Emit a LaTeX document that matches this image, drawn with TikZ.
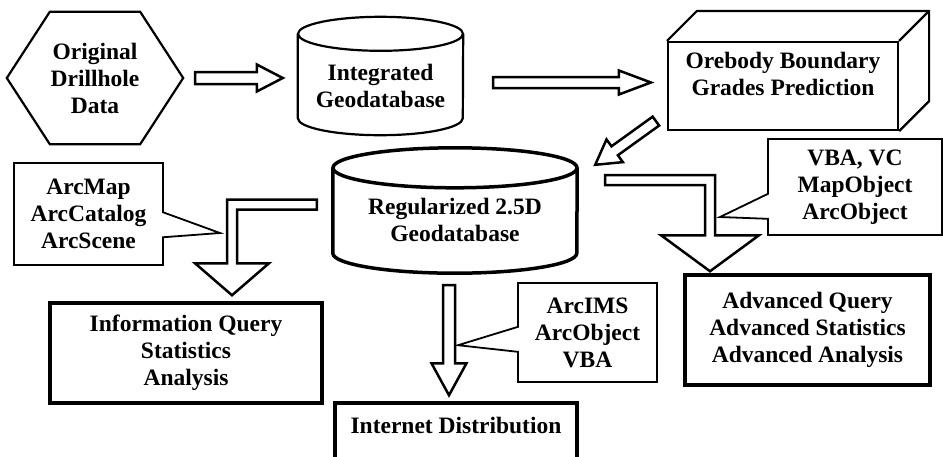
\documentclass[tikz,border=0pt]{standalone}
\usepackage{fontspec}
\setmainfont{Liberation Serif}
\usetikzlibrary{calc,shapes.callouts}

\newcommand\drum[4][]{%
  \draw[#1] ([yshift=-#4]#2.north west) -- ([yshift=#4]#2.south west)
    arc[start angle=180, end angle=360, x radius=#3, y radius=#4]
    -- ([yshift=-#4]#2.north east);
  \draw[#1] ([yshift=-#4]#2.north) ellipse[x radius=#3, y radius=#4];}
\newcommand\hollowarrow[5]{%
  \draw[hollow] ($(#1)!#3!90:(#2)$) -- ($(#2)!#5!(#1)!#3!270:(#1)$)
    -- ($(#2)!#5!(#1)!#4!270:(#1)$) -- (#2)
    -- ($(#2)!#5!(#1)!#4!90:(#1)$) -- ($(#2)!#5!(#1)!#3!90:(#1)$)
    -- ($(#1)!#3!270:(#2)$) -- cycle;}

\begin{document}
\begin{tikzpicture}[x=1pt, y=1pt,
    txt/.style={font=\fontsize{23.5}{27}\selectfont\bfseries, align=center},
    plain/.style={line width=2.2pt},
    frame/.style={draw, line width=3.5pt, txt},
    toolnote/.style={rectangle callout, draw, line width=1.8pt, txt,
      callout pointer width=25pt},
    hollow/.style={draw, line width=2.5pt, fill=white, line join=miter}]
  \useasboundingbox[fill=white] (0,0) rectangle (943,-456);

  \node[txt, minimum width=176pt, minimum height=132pt] (hex) at (95,-78)
    {Original\\Drillhole\\Data};
  \draw[plain] (hex.west) -- ([xshift=43pt]hex.north west)
    -- ([xshift=-43pt]hex.north east) -- (hex.east)
    -- ([xshift=-43pt]hex.south east) -- ([xshift=43pt]hex.south west) -- cycle;
  \node[minimum width=165pt, minimum height=118pt] (integ) at (380.5,-76) {};
  \drum[plain]{integ}{82.5pt}{17pt}
  \node[txt] (integ-t) at (380.5,-86) {Integrated\\Geodatabase};
  \node[draw, plain, minimum width=230pt, minimum height=88pt] (ore) at (783,-86) {};
  \draw[plain] (ore.north west) -- ++(30,30)
    -| ([shift={(30pt,30pt)}]ore.south east) -- (ore.south east);
  \draw[plain] (ore.north east) -- ++(30,30);
  \node[txt] (ore-t) at ([yshift=-33pt]ore.north) {Orebody Boundary\\Grades Prediction};

  \node[minimum width=244pt, minimum height=125pt] (reg) at (455,-210.5) {};
  \drum[line width=3.5pt]{reg}{122pt}{20pt}
  \node[txt] (reg-t) at (455,-220) {Regularized 2.5D\\Geodatabase};

  \node[frame, minimum width=272pt, minimum height=100pt] (info) at (186,-353)
    {Information Query\\Statistics\\Analysis};
  \node[frame, minimum width=245pt, minimum height=110pt] (adv) at (807.5,-330)
    {Advanced Query\\Advanced Statistics\\Advanced Analysis};
  \node[draw, line width=3.5pt, minimum width=242pt, minimum height=60pt] (inet) at (456,-433) {};
  \node[txt] (inet-t) at (456,-425) {Internet Distribution};

  \coordinate (a1) at ([xshift=12pt]hex.east);
  \coordinate (a2) at ([shift={(-15pt,-2pt)}]integ.west);
  \hollowarrow{a1}{a2}{6pt}{13.5pt}{26pt}
  \coordinate (b1) at ([shift={(30pt,-6.5pt)}]integ.east);
  \coordinate (b2) at ([shift={(-16pt,3.5pt)}]ore.west);
  \hollowarrow{b1}{b2}{5.5pt}{12pt}{32pt}
  \coordinate (c1) at ([shift={(-11pt,10pt)}]ore.south west);
  \coordinate (c2) at ([shift={(18pt,-17pt)}]reg.north east);
  \hollowarrow{c1}{c2}{5.5pt}{14pt}{24pt}
  \coordinate (d1) at ([shift={(-6pt,-12pt)}]reg.south);
  \coordinate (d2) at ([shift={(-7pt,6pt)}]inet.north);
  \hollowarrow{d1}{d2}{6pt}{17.5pt}{32pt}

  \coordinate (ls) at ([shift={(-16pt,6pt)}]reg.west);
  \coordinate (lc) at (232,-204.5);
  \coordinate (lt) at ($(lc |- info.north)+(0,6)$);
  \draw[hollow] ($(ls)+(0,5)$) -- ($(lc)+(-5,5)$) -- ($(lt)+(-5,32)$)
    -- ($(lt)+(-37,32)$) -- (lt) -- ($(lt)+(37,32)$) -- ($(lt)+(5,32)$)
    -- ($(lc)+(5,-5)$) -- ($(ls)+(0,-5)$) -- cycle;
  \coordinate (rs) at ([shift={(28pt,30.5pt)}]reg.east);
  \coordinate (rc) at (710,-180);
  \coordinate (rt) at ($(rc |- adv.north)+(0,2)$);
  \draw[hollow] ($(rs)+(0,5)$) -- ($(rc)+(5,5)$) -- ($(rt)+(5,36)$)
    -- ($(rt)+(49,36)$) -- (rt) -- ($(rt)+(-49,36)$) -- ($(rt)+(-5,36)$)
    -- ($(rc)+(-5,-5)$) -- ($(rs)+(0,-5)$) -- cycle;

  \coordinate (lp) at ($(lc)+(-12,-28.5)$);
  \coordinate (rp) at ($(rc)+(10,-37)$);
  \coordinate (dp) at ($(d1)+(9,-60)$);
  \node[toolnote, minimum width=149pt, minimum height=102pt,
    callout absolute pointer={(lp)}] (arcmap) at (88.5,-214)
    {ArcMap\\ArcCatalog\\ArcScene};
  \node[toolnote, minimum width=174pt, minimum height=96pt,
    callout absolute pointer={(rp)}] (vba) at (855,-187)
    {VBA, VC\\MapObject\\ArcObject};
  \node[toolnote, minimum width=139pt, minimum height=99pt,
    callout absolute pointer={(dp)}] (ims) at (587.5,-332.5)
    {ArcIMS\\ArcObject\\VBA};
\end{tikzpicture}
\end{document}
